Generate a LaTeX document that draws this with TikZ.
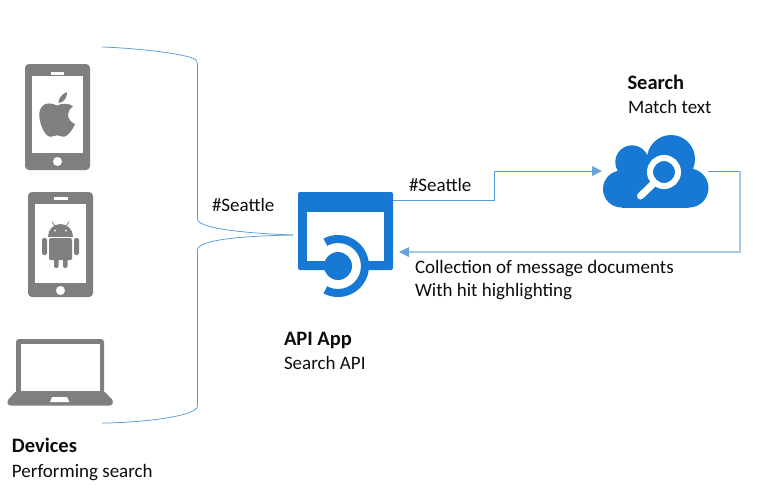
\documentclass[tikz,border=0pt]{standalone}
\usepackage{fontspec}
\setmainfont{Carlito}
\begin{document}
\begin{tikzpicture}[x=1pt,y=-1pt,
  lbl/.style={anchor=base west,inner sep=0pt,outer sep=0pt,font=\fontsize{19}{22}\selectfont,text=black!95},
  lblb/.style={lbl,font=\fontsize{20.5}{24}\selectfont\bfseries},
  brace/.style={draw=bluel,line width=0.75pt},
  conn/.style={draw=bluel,line width=0.75pt},
  connl/.style={draw=bluep,line width=1.3pt},
  tip/.style={fill=bluet,draw=none},
  anchorpt/.style={inner sep=0pt,outer sep=0pt,minimum size=0pt}]
\definecolor{bluel}{HTML}{5B9BD5}
\definecolor{bluep}{HTML}{A5C8E8}
\definecolor{bluet}{HTML}{6AA3D9}
\definecolor{az}{HTML}{1779D4}
\definecolor{dev}{HTML}{7F7F7F}
\useasboundingbox (0,0) rectangle (757,499);
\fill[white] (0,0) rectangle (757,499);

% Apple phone
\fill[dev,rounded corners=4pt] (25,64) rectangle (90,170);
\fill[white] (32,76) rectangle (83,153);
\fill[white] (51,72) rectangle (64,74.5);
\fill[white] (57.5,161.5) circle (4.5);
\fill[dev] (57,105.5)
  .. controls (52,103) and (46,102.5) .. (43,105.5)
  .. controls (39,109) and (38.5,115) .. (40,121)
  .. controls (41.5,128) and (46,136.5) .. (50,136.8)
  .. controls (53,137) and (54,135.3) .. (57,135.3)
  .. controls (60,135.3) and (61,137) .. (64,136.8)
  .. controls (68,136.5) and (73,129) .. (75,124)
  .. controls (70,122) and (68,118) .. (68,114.5)
  .. controls (68,111) and (70,108.5) .. (73,106.5)
  .. controls (70,103) and (62,103) .. (57,105.5) -- cycle;
\fill[dev] (58.5,103) .. controls (58.5,98) and (62,94) .. (67,92)
  .. controls (67.5,97) and (64,102.5) .. (58.5,103) -- cycle;

% Android phone
\fill[dev,rounded corners=4pt] (28,192) rectangle (93,297);
\fill[white] (35,204) rectangle (86,283);
\fill[white] (54,197) rectangle (68,199.5);
\fill[white] (60.5,290.5) circle (4.5);
\begin{scope}
  \clip (40,215) rectangle (80,236);
  \fill[dev] (60.5,236.5) circle (12.5);
\end{scope}
\draw[dev,line width=0.8pt] (52,221.5) -- (55,226.5) (69,221.5) -- (66,226.5);
\fill[white] (55,230.5) circle (1) (66,230.5) circle (1);
\fill[dev,rounded corners=1.5pt] (49,238) rectangle (72,260);
\fill[dev,rounded corners=2pt] (42,238) rectangle (47,255);
\fill[dev,rounded corners=2pt] (74,238) rectangle (79,255);
\fill[dev,rounded corners=2pt] (54,255) rectangle (58.5,268);
\fill[dev,rounded corners=2pt] (63,255) rectangle (67.5,268);

% Laptop
\fill[dev,rounded corners=3pt] (16,339) -- (104,339) -- (104,394) -- (16,394) -- cycle;
\fill[white] (21,344) rectangle (100,391);
\fill[dev,rounded corners=2.5pt] (16,391) -- (104,391) -- (113.5,401) -- (112,405.5) -- (8,405.5) -- (7,401) -- cycle;
\fill[white] (52,397) -- (67,397) -- (69.5,402) -- (50,402) -- cycle;

% API App icon
\fill[az,rounded corners=2pt] (298,192) rectangle (393,270);
\fill[white] (307,212) rectangle (384,261);
\begin{scope}
  \clip (338,266) -- (319.2,230.7) -- (378,230.7) -- (378,301.3) -- (319.2,301.3) -- cycle;
  \fill[white] (338,266) circle (23);
  \fill[az,even odd rule] (338,266) circle (31) (338,266) circle (23);
\end{scope}
\fill[az] (338,266) circle (14);
\node[anchorpt] (api) at (345.5,231) {};
\coordinate (apiL) at (293,235);
\coordinate (apiR) at (393,200.5);
\coordinate (apiIn) at (399,252);

% Search cloud
\fill[az] (671,159) circle (24) (632,162) circle (16.7)
  (621.5,189) circle (18.5) (689,188) circle (19.5);
\fill[az] (621.5,172) rectangle (689,207.5);
\fill[az] (632,165) rectangle (671,180);
\draw[white,line width=6pt] (664,172) circle (14);
\draw[white,line width=7pt,line cap=round] (654,183) -- (640.5,196);
\node[anchorpt] (cloud) at (655.5,171) {};
\coordinate (cloudIn) at (602,171);
\coordinate (cloudOut) at (708,171);

% Device brace
\node[anchorpt] (devtop) at (102,47) {};
\node[anchorpt] (devbot) at (102,423) {};
\path[brace] (devtop.center) .. controls (135,48) and (190,54) .. (196,60)
  .. controls (197.5,61.5) and (197.5,62) .. (197.5,64) -- (197.5,219)
  .. controls (197.5,228) and (240,233) .. (apiL);
\path[brace] (apiL) .. controls (240,236) and (197.5,240) .. (197.5,250)
  -- (197.5,406) .. controls (197.5,417) and (135,423) .. (devbot.center);

% Connectors
\path[conn] (apiR) -- (494,200.5) -- (494,171) -- (592,171);
\fill[tip] (cloudIn) -- (592,166) -- (592,176) -- cycle;
\path[conn] (cloudOut) -- (740,171);
\path[connl] (740,170.5) -- (740,252) -- (409,252);
\fill[tip] (apiIn) -- (409,247) -- (409,257) -- cycle;

% Labels
\node[lblb] (t1) at (627.5,89) {Search};
\node[lbl] (t2) at (628,113) {Match text};
\node[lbl] (t3) at (212,211) {\#Seattle};
\node[lbl] (t4) at (409,191) {\#Seattle};
\node[lbl] (t5) at (415,273) {Collection of message documents};
\node[lbl] (t6) at (415,296) {With hit highlighting};
\node[lblb] (t7) at (284,345) {API App};
\node[lbl] (t8) at (284,369) {Search API};
\node[lblb] (t9) at (12,452) {Devices};
\node[lbl] (t10) at (12,477) {Performing search};
\end{tikzpicture}
\end{document}
